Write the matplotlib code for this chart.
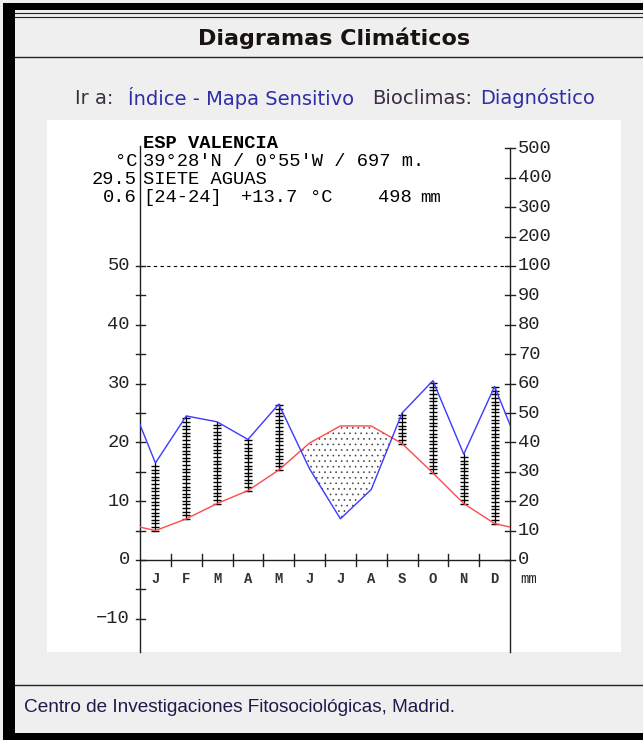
import matplotlib
matplotlib.use("Agg")
import matplotlib.pyplot as plt
import numpy as np
from matplotlib.patches import Rectangle
from matplotlib.lines import Line2D

# ---------------- data ----------------
months = ["J", "F", "M", "A", "M", "J", "J", "A", "S", "O", "N", "D"]
temp_c = [5.0, 7.0, 9.6, 11.8, 15.3, 19.9, 22.8, 22.8, 19.8, 14.8, 9.6, 6.2]
prec_mm = [33, 49, 47, 41, 53, 31, 14, 24, 50, 61, 36, 59]
temp_ticks = [-10, 0, 10, 20, 30, 40, 50]
temp_minor = [-5, 5, 15, 25, 35, 45]
prec_ticks = [0, 10, 20, 30, 40, 50, 60, 70, 80, 90, 100, 200, 300, 400, 500]

station = "ESP VALENCIA"
coords = "39°28'N / 0°55'W / 697 m."
place = "SIETE AGUAS"
period = "[24-24]"
mean_t = "+13.7"
total_p = "498"
abs_max = "29.5"
abs_min = "0.6"

page_title = "Diagramas Climáticos"
footer = "Centro de Investigaciones Fitosociológicas, Madrid."

plt.rcParams["hatch.linewidth"] = 0.45

# ---------------- layout helpers ----------------
W, H = 643, 740
fig = plt.figure(figsize=(6.43, 7.40), dpi=100)
fig.patch.set_facecolor("#efefef")

def fx(x):
    return x / W

def fy(y):
    return 1 - y / H

def rect(x0, y0, x1, y1, color, z=-10):
    fig.add_artist(Rectangle((fx(x0), fy(y1)), (x1 - x0) / W, (y1 - y0) / H,
                             transform=fig.transFigure, facecolor=color,
                             edgecolor="none", zorder=z))

def hline(y, x0, x1, color="#222222", lw=1.0):
    fig.add_artist(Line2D([fx(x0), fx(x1)], [fy(y), fy(y)], transform=fig.transFigure,
                          color=color, lw=lw, zorder=-5))

# page frame
rect(3, 3, 643, 10, "black")
rect(3, 3, 15, 740, "black")
rect(3, 733, 643, 740, "black")
hline(13, 15, 643, lw=0.8)
hline(16.5, 15, 643, lw=0.8)
hline(57, 15, 643, lw=1.0)
hline(685, 15, 643, lw=1.0)
rect(47, 120, 621, 652, "white", z=-8)

fig.text(fx(334), fy(38), page_title, ha="center", va="center", fontsize=16,
         fontweight="bold", family="DejaVu Sans", color="#1a1210")

link_fs = 14
fig.text(fx(75), fy(98), "Ir a:", ha="left", va="center", fontsize=link_fs,
         family="DejaVu Sans", color="#3b2c42")
fig.text(fx(128), fy(98), "Índice - Mapa Sensitivo", ha="left", va="center",
         fontsize=link_fs, family="DejaVu Sans", color="#2e2ea6")
fig.text(fx(372), fy(98), "Bioclimas:", ha="left", va="center", fontsize=link_fs,
         family="DejaVu Sans", color="#3b2c42")
fig.text(fx(480), fy(98), "Diagnóstico", ha="left", va="center", fontsize=link_fs,
         family="DejaVu Sans", color="#2e2ea6")

fig.text(fx(24), fy(707), footer, ha="left", va="center", fontsize=13.7,
         family="Liberation Sans", color="#1e1b4a")

# ---------------- climate diagram ----------------
PX_PER_C = 5.88
ZERO_Y = 560.0

def T(py):
    return (ZERO_Y - py) / PX_PER_C

ax = fig.add_axes([fx(140), fy(652), 370 / W, (652 - 148) / H])
ax.set_xlim(0, 12)
ax.set_ylim(T(652), T(148))
ax.axis("off")
ax.patch.set_visible(False)

def mm_to_c(p):
    return p / 2.0 if p <= 100 else 50 + (p - 100) / 20.0

mono = "Liberation Mono"
axis_col = "#202020"
hdr_fs = 13.5

# axes lines
ax.plot([0, 0], [T(652), T(146)], color=axis_col, lw=1.0, clip_on=False)
ax.plot([12, 12], [T(652), mm_to_c(500)], color=axis_col, lw=1.0, clip_on=False)
ax.plot([0, 12], [0, 0], color=axis_col, lw=1.0, clip_on=False)
ax.plot([0, 12], [50, 50], color="black", lw=0.8, ls=(0, (3, 3)), clip_on=False)

tick_dx = 4.5 / (370 / 12)
for v in temp_ticks + temp_minor:
    ax.plot([-tick_dx, tick_dx], [v, v], color=axis_col, lw=1.0, clip_on=False)
for v in temp_ticks:
    fig.text(fx(130), fy(ZERO_Y - v * PX_PER_C), f"{v:d}".replace("-", "\u2212"),
             ha="right", va="center", fontsize=13.5, family=mono, color="#222222")

for p in prec_ticks:
    c = mm_to_c(p)
    ax.plot([12 - tick_dx, 12 + tick_dx], [c, c], color=axis_col, lw=1.0, clip_on=False)
    fig.text(fx(518), fy(ZERO_Y - c * PX_PER_C), f"{p:d}", ha="left", va="center",
             fontsize=13.5, family=mono, color="#222222")

month_dy = 6 / PX_PER_C
for i in range(1, 12):
    ax.plot([i, i], [-month_dy, month_dy], color=axis_col, lw=1.0, clip_on=False)
for i, m in enumerate(months):
    ax.text(i + 0.5, T(579), m, ha="center", va="center", fontsize=10,
            fontweight="bold", family=mono, color="#333333", clip_on=False)
fig.text(fx(520), fy(579), "mm", ha="left", va="center", fontsize=10,
         family=mono, color="#222222")

# header texts
fig.text(fx(143), fy(148), station, ha="left", va="baseline", fontsize=hdr_fs,
         fontweight="bold", family=mono, color="black")
fig.text(fx(143), fy(166), coords, ha="left", va="baseline", fontsize=hdr_fs,
         family=mono, color="black")
fig.text(fx(143), fy(184), place, ha="left", va="baseline", fontsize=hdr_fs,
         family=mono, color="black")
fig.text(fx(143), fy(201.5), period, ha="left", va="baseline", fontsize=hdr_fs,
         family=mono, color="black")
fig.text(fx(241), fy(201.5), mean_t, ha="left", va="baseline", fontsize=hdr_fs,
         family=mono, color="black")
fig.text(fx(310), fy(201.5), "°C", ha="left", va="baseline", fontsize=hdr_fs,
         family=mono, color="black")
fig.text(fx(378), fy(201.5), total_p, ha="left", va="baseline", fontsize=hdr_fs,
         family=mono, color="black")
fig.text(fx(420), fy(201.5), "mm", ha="left", va="baseline", fontsize=12.5,
         family=mono, color="black")
fig.text(fx(137), fy(166), "°C", ha="right", va="baseline", fontsize=hdr_fs,
         family=mono, color="black")
fig.text(fx(137), fy(184), abs_max, ha="right", va="baseline", fontsize=hdr_fs,
         family=mono, color="black")
fig.text(fx(137), fy(201.5), abs_min, ha="right", va="baseline", fontsize=hdr_fs,
         family=mono, color="black")

# curves (wrap around the year at the edges)
t = np.array(temp_c, dtype=float)
p = np.array([mm_to_c(v) for v in prec_mm], dtype=float)
xs = np.concatenate([[0.0], np.arange(12) + 0.5, [12.0]])
tt = np.concatenate([[(t[-1] + t[0]) / 2], t, [(t[-1] + t[0]) / 2]])
pp = np.concatenate([[(p[-1] + p[0]) / 2], p, [(p[-1] + p[0]) / 2]])

# dry period
ax.fill_between(xs, pp, tt, where=tt > pp, interpolate=True, facecolor="none",
                edgecolor="#444444", hatch="...", lw=0, zorder=1)

# humid period ladders
step = 0.61
for i in range(12):
    lo, hi = t[i], p[i]
    if hi > lo:
        ax.plot([i + 0.5, i + 0.5], [lo, hi], color="black", lw=0.9, zorder=2)
        marks = np.arange(lo, hi + 1e-6, step)
        ax.plot(np.full(len(marks), i + 0.5), marks, ls="none", marker="_",
                ms=5.5, mew=1.0, color="black", zorder=2)

ax.plot(xs, tt, color="#ff4a4a", lw=1.0, zorder=3)
ax.plot(xs, pp, color="#3a3aff", lw=1.0, zorder=3)

fig.savefig("out.png", dpi=100, facecolor=fig.get_facecolor())
